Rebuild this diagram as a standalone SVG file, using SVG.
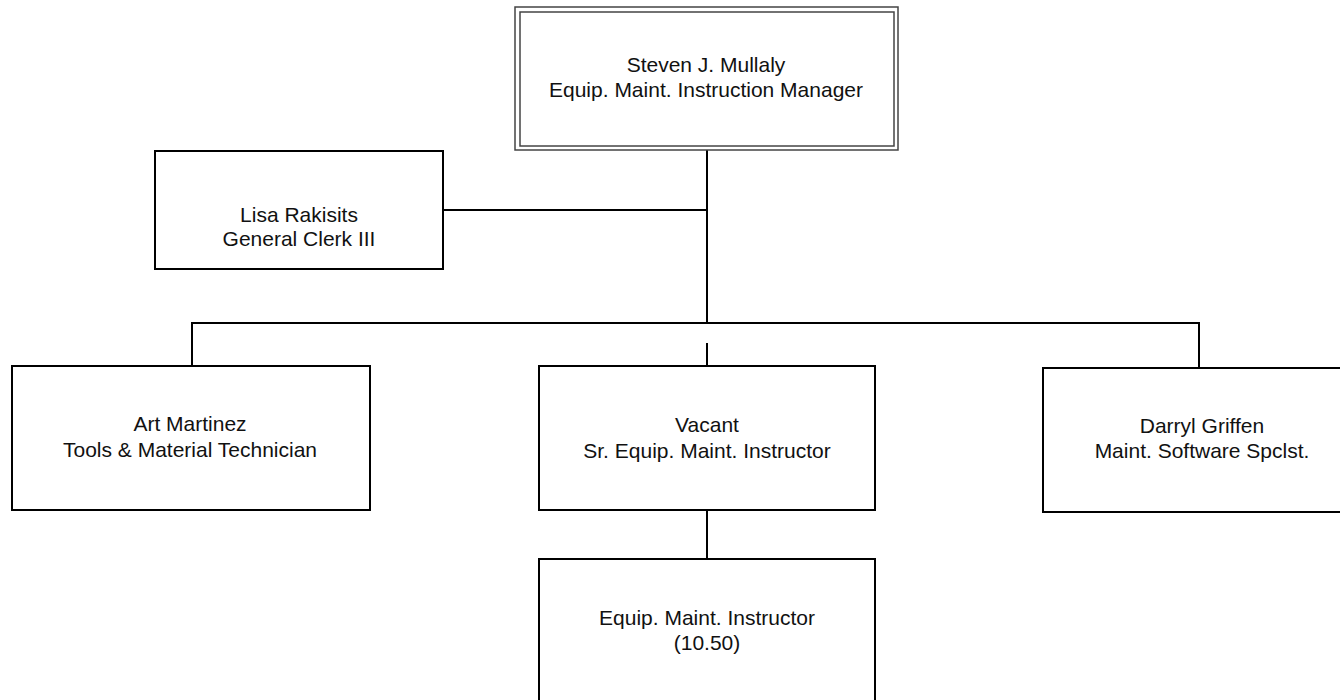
<svg xmlns="http://www.w3.org/2000/svg" width="1340" height="700" viewBox="0 0 1340 700">
<style>
.box{fill:#fff;stroke:#000;stroke-width:2}
.dbl{fill:none;stroke:#444;stroke-width:1.5}
.ln{fill:none;stroke:#000;stroke-width:2}
text{font-family:"Liberation Sans",Arial,sans-serif;font-size:21px;fill:#111;text-anchor:middle}
</style>
<rect width="1340" height="700" fill="#fff"/>
<g id="connectors">
<path class="ln" d="M707 150V323M443 210H707M192 366V323H1199V368M707 343V366M707 510V559"/>
</g>
<g id="n-mullaly">
<rect x="515" y="7" width="383" height="143" fill="#fff" class="dbl"/>
<rect x="520" y="12" width="374" height="134" class="dbl"/>
<text x="706" y="72">Steven J. Mullaly</text>
<text x="706" y="97">Equip. Maint. Instruction Manager</text>
</g>
<g id="n-rakisits">
<rect class="box" x="155" y="151" width="288" height="118"/>
<text x="299" y="222">Lisa Rakisits</text>
<text x="299" y="246">General Clerk III</text>
</g>
<g id="n-martinez">
<rect class="box" x="12" y="366" width="358" height="144"/>
<text x="190" y="431">Art Martinez</text>
<text x="190" y="457">Tools &amp; Material Technician</text>
</g>
<g id="n-vacant">
<rect class="box" x="539" y="366" width="336" height="144"/>
<text x="707" y="432">Vacant</text>
<text x="707" y="458">Sr. Equip. Maint. Instructor</text>
</g>
<g id="n-griffen">
<rect class="box" x="1043" y="368" width="320" height="144"/>
<text x="1202" y="433">Darryl Griffen</text>
<text x="1202" y="458">Maint. Software Spclst.</text>
</g>
<g id="n-instructor">
<rect class="box" x="539" y="559" width="336" height="144"/>
<text x="707" y="625">Equip. Maint. Instructor</text>
<text x="707" y="650">(10.50)</text>
</g>
</svg>
